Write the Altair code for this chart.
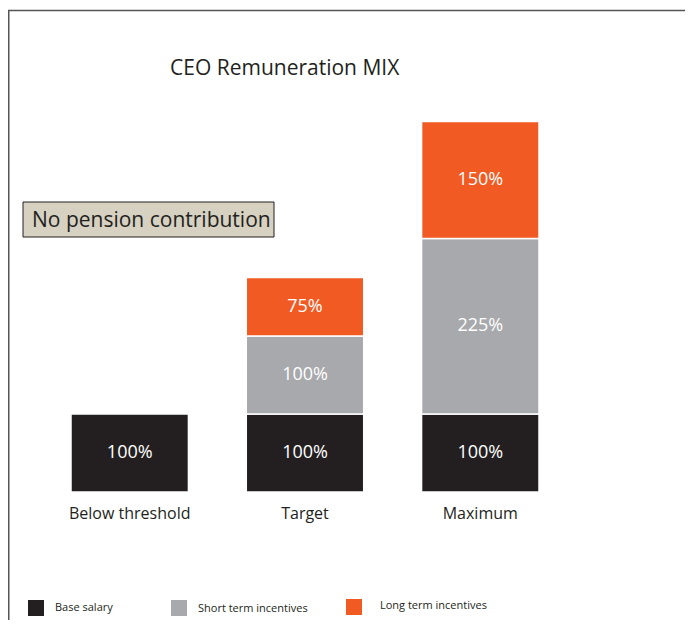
import altair as alt
import pandas as pd

# ---- data ----
categories = ["Below threshold", "Target", "Maximum"]
components = ["Base salary", "Short term incentives", "Long term incentives"]
base_salary = [100, 100, 100]
short_term = [0, 100, 225]
long_term = [0, 75, 150]
colors = ["#231f20", "#a7a9ac", "#f15a22"]
title_text = "CEO Remuneration MIX"
note_text = "No pension contribution"

# ---- build table ----
rows = []
for i, cat in enumerate(categories):
    y0 = 0
    for comp, vals in zip(components, [base_salary, short_term, long_term]):
        v = vals[i]
        if v > 0:
            rows.append({"cat": cat, "comp": comp, "value": v, "y0": y0, "y1": y0 + v,
                         "mid": y0 + v / 2, "label": f"{v}%"})
            y0 += v
df = pd.DataFrame(rows)

FONT = "Open Sans"
W, H = 677, 612

xscale = alt.Scale(domain=categories, range=[63, 531], paddingInner=0.33, paddingOuter=0)
yscale = alt.Scale(domain=[0, 600], range=[484, 16])
cscale = alt.Scale(domain=components, range=colors)

bars = alt.Chart(df).mark_bar(stroke="white", strokeWidth=1.5).encode(
    x=alt.X("cat:N", scale=xscale, axis=None, sort=categories),
    y=alt.Y("y1:Q", scale=yscale, axis=None),
    y2="y0:Q",
    color=alt.Color("comp:N", scale=cscale, legend=None),
)

vals = alt.Chart(df).mark_text(font=FONT, fontSize=18, color="white", baseline="middle").encode(
    x=alt.X("cat:N", scale=xscale, axis=None, sort=categories),
    y=alt.Y("mid:Q", scale=yscale, axis=None),
    text="label:N",
)

cat_df = pd.DataFrame({"cat": categories})
cat_labels = alt.Chart(cat_df).mark_text(font=FONT, fontSize=16, color="#231f20", baseline="alphabetic").encode(
    x=alt.X("cat:N", scale=xscale, axis=None, sort=categories),
    y=alt.value(511),
    text="cat:N",
)

one = pd.DataFrame({"t": [title_text], "n": [note_text]})

title = alt.Chart(one).mark_text(font=FONT, fontSize=21, color="#231f20", align="left",
                                 baseline="alphabetic").encode(
    x=alt.value(162), y=alt.value(67), text="t:N")

box = alt.Chart(one).mark_rect(fill="#d6d1c1", stroke="#231f20", strokeWidth=1).encode(
    x=alt.value(15), x2=alt.value(266), y=alt.value(194), y2=alt.value(229))

note = alt.Chart(one).mark_text(font=FONT, fontSize=21, color="#231f20", align="left",
                                baseline="alphabetic").encode(
    x=alt.value(24), y=alt.value(219), text="n:N")

top_line = alt.Chart(one).mark_rule(color="#555555", strokeWidth=1.5).encode(
    x=alt.value(0), x2=alt.value(W), y=alt.value(2.5))
left_line = alt.Chart(one).mark_rule(color="#555555", strokeWidth=1.5).encode(
    x=alt.value(0.75), y=alt.value(2.5), y2=alt.value(H))

# ---- manual legend (layout positions) ----
swatch_x = [20, 163, 338]
swatch_y = [592, 592, 591]
label_x = [47, 190, 372]
label_y = [603, 604, 601]
legend_layers = []
for i, comp in enumerate(components):
    d = pd.DataFrame({"comp": [comp]})
    legend_layers.append(
        alt.Chart(d).mark_rect(color=colors[i]).encode(
            x=alt.value(swatch_x[i]), x2=alt.value(swatch_x[i] + 16),
            y=alt.value(swatch_y[i]), y2=alt.value(swatch_y[i] + 16)))
    legend_layers.append(
        alt.Chart(d).mark_text(font=FONT, fontSize=11, color="#231f20", align="left",
                               baseline="alphabetic").encode(
            x=alt.value(label_x[i]), y=alt.value(label_y[i]), text="comp:N"))

chart = alt.layer(
    top_line, left_line, bars, vals, cat_labels, title, box, note, *legend_layers
).properties(
    width=W, height=H, padding=0, autosize=alt.AutoSizeParams(type="none"), background="white"
).configure_view(stroke=None)

chart.save("out.html", embed_options={"renderer": "svg", "actions": False})
